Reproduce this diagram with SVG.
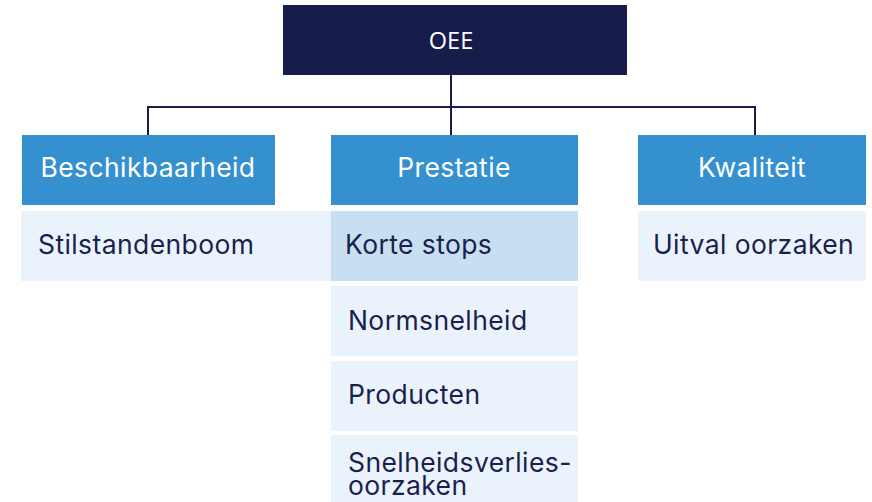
<svg xmlns="http://www.w3.org/2000/svg" width="872" height="502" viewBox="0 0 872 502">
<style>
.root{fill:#161d4b}
.hdr{fill:#3590d0}
.item{fill:#eaf3fb}
.sel{fill:#c7dff0}
.ht{font-family:Inter,"Open Sans",sans-serif;font-size:26.5px;letter-spacing:0.4px;fill:#ffffff;text-anchor:middle}
.it{font-family:Inter,"Open Sans",sans-serif;font-size:26.5px;letter-spacing:0.4px;fill:#1a1f4e}
.rt{font-family:"Open Sans","Noto Sans",sans-serif;font-size:23.5px;fill:#ffffff;text-anchor:middle}
.con{fill:none;stroke:#161d4b;stroke-width:2}
</style>
<rect width="872" height="502" fill="#ffffff"/>
<g id="connectors">
<path class="con" d="M451 75V135M148 135V107H755V135"/>
</g>
<g id="oee"><rect class="root" x="283" y="5" width="344" height="70"/><text class="rt" x="451" y="48.5">OEE</text></g>
<g id="beschikbaarheid"><rect class="hdr" x="22" y="135" width="253" height="70"/><text class="ht" x="148" y="177">Beschikbaarheid</text></g>
<g id="prestatie"><rect class="hdr" x="331" y="135" width="247" height="70"/><text class="ht" x="454" y="177">Prestatie</text></g>
<g id="kwaliteit"><rect class="hdr" x="638" y="135" width="228" height="70"/><text class="ht" x="752" y="177">Kwaliteit</text></g>
<g id="stilstandenboom"><rect class="item" x="21" y="211" width="310" height="70"/><text class="it" x="38" y="254">Stilstandenboom</text></g>
<g id="korte-stops"><rect class="sel" x="331" y="211" width="247" height="70"/><text class="it" x="345" y="254">Korte stops</text></g>
<g id="normsnelheid"><rect class="item" x="331" y="286" width="247" height="70"/><text class="it" x="348" y="330">Normsnelheid</text></g>
<g id="producten"><rect class="item" x="331" y="361" width="247" height="70"/><text class="it" x="348" y="404">Producten</text></g>
<g id="snelheidsverlies"><rect class="item" x="331" y="435" width="247" height="67"/><text class="it" x="348" y="472">Snelheidsverlies-</text><text class="it" x="348" y="495">oorzaken</text></g>
<g id="uitval"><rect class="item" x="638" y="211" width="228" height="70"/><text class="it" x="653" y="254">Uitval oorzaken</text></g>
</svg>
